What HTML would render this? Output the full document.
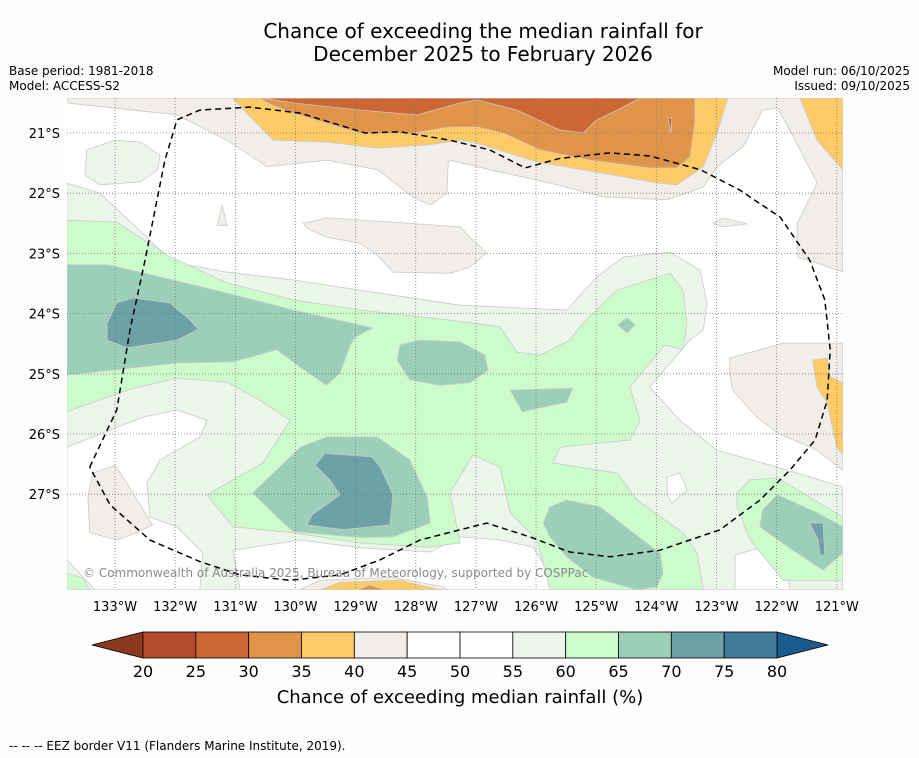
<!DOCTYPE html>
<html><head><meta charset="utf-8">
<style>
body{margin:0;background:#fdfdfd;}
svg{display:block;font-family:"DejaVu Sans","Liberation Sans",sans-serif;}
</style></head>
<body>
<svg id="chart" width="919" height="758" viewBox="0 0 919 758" xmlns="http://www.w3.org/2000/svg">
<rect x="0" y="0" width="919" height="758" fill="#fdfdfd"/>
<text x="483" y="38" text-anchor="middle" font-size="20" fill="#000">Chance of exceeding the median rainfall for</text>
<text x="483" y="61" text-anchor="middle" font-size="20" fill="#000">December 2025 to February 2026</text>
<text x="9" y="75" font-size="12">Base period: 1981-2018</text>
<text x="9" y="90" font-size="12">Model: ACCESS-S2</text>
<text x="910" y="75" font-size="12" text-anchor="end">Model run: 06/10/2025</text>
<text x="910" y="90" font-size="12" text-anchor="end">Issued: 09/10/2025</text>
<defs><clipPath id="mapclip"><rect x="67" y="98" width="776" height="492"/></clipPath></defs>
<g id="map" clip-path="url(#mapclip)">
<rect x="67" y="98" width="776" height="492" fill="#ffffff"/>
<g id="fills"></g>
<g id="grid"></g>
<g id="eez"></g>
</g>
<text x="83" y="577" font-size="12" fill="#8a8a8a">© Commonwealth of Australia 2025, Bureau of Meteorology, supported by COSPPac</text>
<g id="axes"></g>
<g id="colorbar"></g>
<text x="460" y="703" text-anchor="middle" font-size="18">Chance of exceeding median rainfall (%)</text>
<text x="9" y="750" font-size="12">--  --  -- EEZ border V11 (Flanders Marine Institute, 2019).</text>
</svg>
<script>
// ---- Data ----
const lonTicks = [-133,-132,-131,-130,-129,-128,-127,-126,-125,-124,-123,-122,-121];
const latTicks = [-21,-22,-23,-24,-25,-26,-27];
const levels = [20,25,30,35,40,45,50,55,60,65,70,75,80];
const levelColors = ["#b34a2a","#cc6633","#e0944a","#fecb66","#f1ede8","#ffffff","#ffffff","#ebf5ea","#ccfccc","#9ccfb9","#6ca1a6","#417a97"];
const underColor = "#8b3a20";
const overColor = "#1b5a8c";

const region5560 = [[-133.80,-21.83],[-133.25,-22.00],[-132.25,-22.94],[-131.97,-23.16],[-131.14,-23.31],[-130.04,-23.44],[-128.93,-23.61],[-127.26,-23.86],[-125.49,-23.94],[-124.99,-23.39],[-124.55,-23.06],[-123.77,-22.98],[-123.27,-23.28],[-123.16,-23.82],[-123.22,-24.27],[-123.44,-24.44],[-124.11,-25.22],[-123.61,-25.77],[-122.99,-26.27],[-121.99,-26.55],[-120.90,-26.88],[-120.90,-28.59],[-133.80,-28.59]];
const region5560b = [[-133.47,-21.28],[-133.00,-21.12],[-132.58,-21.15],[-132.25,-21.37],[-132.29,-21.61],[-132.58,-21.81],[-133.25,-21.86],[-133.50,-21.70]];
const white1 = [[-133.80,-26.22],[-132.53,-25.72],[-131.97,-25.60],[-131.47,-25.77],[-131.59,-26.05],[-132.25,-26.43],[-132.47,-26.81],[-132.42,-27.38],[-131.97,-27.54],[-131.54,-27.98],[-131.59,-28.59],[-133.33,-28.59],[-133.80,-28.09]];
const white2 = [[-131.04,-27.93],[-129.92,-27.76],[-128.93,-27.89],[-127.76,-27.96],[-127.26,-27.71],[-126.60,-27.76],[-126.05,-27.88],[-125.60,-28.59],[-130.92,-28.59]];
const white3 = [[-122.69,-28.01],[-122.28,-27.89],[-121.86,-28.09],[-121.78,-28.59],[-122.69,-28.59]];
const white4 = [[-123.82,-26.71],[-123.61,-26.65],[-123.49,-26.93],[-123.74,-27.15],[-123.82,-27.01]];
const region6065 = [[-133.80,-22.45],[-132.97,-22.48],[-132.14,-23.03],[-131.14,-23.49],[-130.04,-23.77],[-128.93,-23.94],[-127.43,-24.11],[-126.60,-24.22],[-126.32,-24.64],[-125.93,-24.69],[-125.44,-24.44],[-125.22,-24.16],[-124.65,-23.61],[-123.77,-23.33],[-123.56,-23.61],[-123.49,-24.16],[-123.56,-24.60],[-123.86,-24.52],[-124.44,-25.22],[-124.27,-25.77],[-124.44,-26.10],[-125.60,-26.22],[-125.72,-26.48],[-124.65,-26.65],[-124.32,-27.10],[-123.56,-27.64],[-123.32,-27.98],[-123.22,-28.59],[-125.77,-28.59],[-125.98,-27.76],[-126.43,-27.31],[-126.60,-26.55],[-127.05,-26.35],[-127.43,-26.98],[-127.26,-27.81],[-127.81,-27.88],[-128.93,-27.81],[-130.04,-27.64],[-131.04,-27.54],[-131.47,-27.01],[-130.54,-26.48],[-130.09,-25.77],[-130.59,-25.44],[-131.14,-25.14],[-131.97,-25.07],[-132.80,-25.27],[-133.80,-25.63]];
const region6065b = [[-122.66,-26.98],[-122.44,-26.76],[-121.99,-26.73],[-120.90,-27.38],[-120.90,-28.43],[-121.89,-28.43],[-122.44,-27.76],[-122.66,-27.21]];
const region6065c = [[-133.80,-28.31],[-133.53,-28.39],[-133.42,-28.59],[-133.80,-28.59]];
const region6570a = [[-133.80,-23.19],[-133.13,-23.19],[-132.25,-23.39],[-131.14,-23.66],[-130.04,-23.94],[-128.71,-24.24],[-129.01,-24.39],[-129.09,-24.52],[-129.26,-24.99],[-129.48,-25.19],[-129.92,-24.89],[-130.31,-24.60],[-131.04,-24.80],[-131.97,-24.82],[-133.80,-25.02]];
const region6570b = [[-128.26,-24.52],[-127.93,-24.44],[-127.26,-24.47],[-126.85,-24.69],[-126.80,-24.94],[-127.10,-25.15],[-127.60,-25.19],[-128.10,-25.10],[-128.31,-24.77]];
const region6570c = [[-126.43,-25.27],[-125.39,-25.24],[-125.49,-25.47],[-126.23,-25.63]];
const region6570d = [[-124.49,-24.07],[-124.35,-24.19],[-124.49,-24.32],[-124.64,-24.19]];
const region6570e = [[-130.71,-26.98],[-129.92,-26.22],[-129.48,-26.05],[-128.64,-26.05],[-128.10,-26.43],[-127.81,-27.05],[-127.76,-27.48],[-128.38,-27.71],[-128.93,-27.72],[-130.04,-27.62],[-130.37,-27.31]];
const region6570f = [[-125.88,-27.48],[-125.77,-27.21],[-125.49,-27.10],[-124.94,-27.21],[-124.39,-27.64],[-123.94,-27.98],[-123.89,-28.31],[-123.99,-28.54],[-124.32,-28.59],[-125.05,-28.38],[-125.49,-28.04],[-125.77,-27.71]];
const region6570g = [[-122.23,-27.26],[-121.99,-27.01],[-121.33,-27.31],[-120.90,-27.54],[-120.90,-27.98],[-121.23,-28.26],[-121.73,-27.93],[-122.28,-27.54]];
const region7075a = [[-133.13,-24.16],[-132.97,-23.82],[-132.70,-23.74],[-132.09,-23.82],[-131.75,-24.11],[-131.62,-24.26],[-131.97,-24.44],[-132.80,-24.57],[-133.13,-24.44]];
const region7075b = [[-129.67,-26.52],[-129.51,-26.32],[-128.73,-26.38],[-128.59,-26.55],[-128.38,-27.01],[-128.43,-27.51],[-129.21,-27.59],[-129.81,-27.51],[-129.72,-27.34],[-129.26,-27.01],[-129.43,-26.76]];
const region7075c = [[-121.45,-27.48],[-121.23,-27.48],[-121.20,-28.01],[-121.28,-28.01],[-121.31,-27.76]];
const region4045a = [[-133.80,-20.42],[-121.61,-20.42],[-121.33,-21.12],[-120.90,-21.61],[-120.90,-23.31],[-121.33,-23.16],[-121.66,-23.06],[-121.66,-22.50],[-121.33,-21.83],[-121.78,-20.95],[-121.99,-20.58],[-122.23,-20.62],[-122.56,-21.23],[-122.99,-21.56],[-123.22,-21.90],[-123.82,-22.11],[-124.89,-22.06],[-125.77,-21.83],[-126.77,-21.61],[-127.43,-21.45],[-127.46,-21.50],[-127.48,-22.00],[-127.76,-22.20],[-128.05,-22.06],[-128.64,-21.61],[-129.48,-21.45],[-130.47,-21.56],[-131.14,-21.12],[-131.97,-20.70],[-133.80,-20.50]];
const region4045b = [[-129.87,-22.50],[-129.48,-22.41],[-128.38,-22.48],[-127.26,-22.56],[-127.10,-22.73],[-126.82,-22.99],[-127.10,-23.23],[-127.43,-23.33],[-128.38,-23.31],[-128.64,-23.03],[-128.93,-22.83],[-129.48,-22.73],[-129.81,-22.58]];
const region4045c = [[-131.30,-22.53],[-131.22,-22.20],[-131.14,-22.54]];
const region4045d = [[-123.06,-22.50],[-122.89,-22.41],[-122.49,-22.51],[-122.89,-22.56]];
const region4045e = [[-122.78,-24.74],[-121.89,-24.49],[-120.90,-24.49],[-120.90,-26.60],[-121.33,-26.27],[-121.99,-25.98],[-122.33,-25.72],[-122.73,-25.27],[-122.78,-24.99]];
const region4045f = [[-133.45,-27.05],[-133.37,-26.65],[-133.00,-26.52],[-132.80,-26.81],[-132.38,-27.51],[-132.63,-27.64],[-132.97,-27.76],[-133.42,-27.64]];
const region4045g = [[-129.92,-28.59],[-129.59,-28.43],[-128.38,-28.38],[-127.55,-28.54],[-127.48,-28.59]];
const region3540a = [[-131.04,-20.42],[-130.81,-20.67],[-130.37,-21.12],[-129.48,-21.15],[-128.64,-21.25],[-127.81,-21.20],[-127.26,-21.12],[-126.98,-21.17],[-125.98,-21.48],[-124.99,-21.65],[-123.99,-21.83],[-123.66,-21.86],[-123.22,-21.56],[-122.99,-21.00],[-122.81,-20.42]];
const region3540b = [[-121.61,-20.42],[-120.90,-20.42],[-120.90,-21.61],[-121.33,-21.12]];
const region3540c = [[-121.40,-24.77],[-121.16,-24.74],[-121.11,-25.05],[-120.90,-25.15],[-120.90,-26.35],[-121.00,-26.22],[-121.16,-25.49],[-121.33,-25.22]];
const region3540d = [[-129.59,-28.59],[-129.26,-28.46],[-128.26,-28.43],[-127.60,-28.59]];
const region3035a = [[-130.59,-20.42],[-130.47,-20.50],[-130.04,-20.67],[-128.93,-21.00],[-128.05,-21.00],[-127.43,-20.90],[-126.98,-20.90],[-126.55,-21.00],[-125.93,-21.28],[-125.10,-21.45],[-124.11,-21.58],[-123.66,-21.58],[-123.44,-21.40],[-123.36,-20.83],[-123.36,-20.42]];
const region3035b = [[-128.98,-28.59],[-128.76,-28.51],[-128.51,-28.59]];
const region2530a = [[-130.54,-20.42],[-130.04,-20.50],[-128.93,-20.62],[-127.98,-20.70],[-127.26,-20.50],[-126.98,-20.45],[-126.32,-20.62],[-125.60,-20.95],[-125.22,-21.00],[-124.99,-20.78],[-124.65,-20.62],[-124.27,-20.42]];
const region2530b = [[-123.81,-20.75],[-123.74,-20.75],[-123.76,-21.00]];
const eezBorder = [[-133.42,-26.55],[-132.97,-25.60],[-132.75,-24.27],[-132.50,-23.11],[-132.17,-21.45],[-131.97,-20.78],[-131.59,-20.62],[-130.76,-20.57],[-129.92,-20.67],[-128.84,-21.00],[-128.26,-20.98],[-127.43,-21.12],[-126.77,-21.28],[-126.18,-21.58],[-125.60,-21.42],[-124.77,-21.33],[-124.11,-21.38],[-123.27,-21.61],[-122.61,-21.95],[-121.94,-22.40],[-121.45,-23.11],[-121.20,-23.77],[-121.11,-24.60],[-121.16,-25.44],[-121.36,-26.10],[-121.78,-26.60],[-122.28,-27.10],[-122.94,-27.59],[-123.94,-27.93],[-124.77,-28.04],[-125.44,-27.96],[-126.10,-27.71],[-126.82,-27.48],[-127.26,-27.59],[-127.93,-27.76],[-128.59,-28.09],[-129.26,-28.34],[-130.09,-28.43],[-130.92,-28.34],[-131.59,-28.12],[-132.42,-27.76],[-133.08,-27.18],[-133.42,-26.55]];

// ---- Axis functions ----
const X0 = 115, PXLON = 60.15, Y0 = 133, PXLAT = 60.2;
function xScale(lon){ return X0 + (lon + 133) * PXLON; }
function yScale(lat){ return Y0 + (-21 - lat) * PXLAT; }
const NS = "http://www.w3.org/2000/svg";
function mk(tag){ return document.createElementNS(NS, tag); }
function ptsStr(poly){ return poly.map(p => xScale(p[0]).toFixed(1) + "," + yScale(p[1]).toFixed(1)).join(" "); }
function bandColor(lv){ return levelColors[levels.indexOf(lv)]; }

const layers = [
  [55, region5560, "band-55-60"],[55, region5560b, "band-55-60-small"],
  [50, white1, "band-50-55-left"],[50, white2, "band-50-55-bottom"],[50, white3, "band-50-55-right"],[50, white4, "band-50-55-small"],
  [60, region6065, "band-60-65"],[60, region6065b, "band-60-65-right"],[60, region6065c, "band-60-65-corner"],
  [65, region6570a, "band-65-70-west"],[65, region6570b, "band-65-70-centre"],[65, region6570c, "band-65-70-small"],[65, region6570d, "band-65-70-diamond"],[65, region6570e, "band-65-70-south"],[65, region6570f, "band-65-70-southeast"],[65, region6570g, "band-65-70-east"],
  [70, region7075a, "band-70-75-west"],[70, region7075b, "band-70-75-south"],[70, region7075c, "band-70-75-east"],
  [40, region4045a, "band-40-45-north"],[40, region4045b, "band-40-45-centre"],[40, region4045c, "band-40-45-drop"],[40, region4045d, "band-40-45-small"],[40, region4045e, "band-40-45-east"],[40, region4045f, "band-40-45-southwest"],[40, region4045g, "band-40-45-south"],
  [35, region3540a, "band-35-40-north"],[35, region3540b, "band-35-40-northeast"],[35, region3540c, "band-35-40-east"],[35, region3540d, "band-35-40-south"],
  [30, region3035a, "band-30-35-north"],[30, region3035b, "band-30-35-south"],
  [25, region2530a, "band-25-30-north"],[25, region2530b, "band-25-30-spike"]
];
const fills = document.getElementById("fills");
layers.forEach(L => {
  const p = mk("polygon");
  p.setAttribute("points", ptsStr(L[1]));
  p.setAttribute("fill", bandColor(L[0]));
  p.setAttribute("stroke", "#c9c9c9");
  p.setAttribute("stroke-width", "0.8");
  
  
  fills.appendChild(p);
});

const grid = document.getElementById("grid");
lonTicks.forEach(lon => {
  const l = mk("line");
  l.setAttribute("x1", xScale(lon)); l.setAttribute("x2", xScale(lon));
  l.setAttribute("y1", 98); l.setAttribute("y2", 590);
  l.setAttribute("stroke", "#777"); l.setAttribute("stroke-width", "0.8"); l.setAttribute("stroke-dasharray", "1,2");
  
  
  grid.appendChild(l);
});
latTicks.forEach(lat => {
  const l = mk("line");
  l.setAttribute("x1", 67); l.setAttribute("x2", 843);
  l.setAttribute("y1", yScale(lat)); l.setAttribute("y2", yScale(lat));
  l.setAttribute("stroke", "#777"); l.setAttribute("stroke-width", "0.8"); l.setAttribute("stroke-dasharray", "1,2");
  
  
  grid.appendChild(l);
});

const eez = mk("polyline");
eez.setAttribute("points", ptsStr(eezBorder));
eez.setAttribute("fill", "none"); eez.setAttribute("stroke", "#000");
eez.setAttribute("stroke-width", "1.5"); eez.setAttribute("stroke-dasharray", "6,4");
eez.setAttribute("stroke-linejoin", "round");


document.getElementById("eez").appendChild(eez);

const axes = document.getElementById("axes");
lonTicks.forEach(lon => {
  const t = mk("text");
  t.setAttribute("x", xScale(lon)); t.setAttribute("y", 611);
  t.setAttribute("text-anchor", "middle"); t.setAttribute("font-size", "13");
  t.textContent = Math.abs(lon) + "°W";
  
  
  axes.appendChild(t);
});
latTicks.forEach(lat => {
  const t = mk("text");
  t.setAttribute("x", 60); t.setAttribute("y", yScale(lat) + 5);
  t.setAttribute("text-anchor", "end"); t.setAttribute("font-size", "13");
  t.textContent = Math.abs(lat) + "°S";
  
  
  axes.appendChild(t);
});

const cb = document.getElementById("colorbar");
const cbX0 = 143, cbX1 = 777, cbY = 632, cbH = 26;
function cbScale(v){ return cbX0 + (v - levels[0]) / (levels[levels.length-1] - levels[0]) * (cbX1 - cbX0); }
const under = mk("polygon");
under.setAttribute("points", `92,${cbY+cbH/2} ${cbX0},${cbY} ${cbX0},${cbY+cbH}`);
under.setAttribute("fill", underColor); under.setAttribute("stroke", "#000"); under.setAttribute("stroke-width", "0.8");


cb.appendChild(under);
const over = mk("polygon");
over.setAttribute("points", `${cbX1},${cbY} 828,${cbY+cbH/2} ${cbX1},${cbY+cbH}`);
over.setAttribute("fill", overColor); over.setAttribute("stroke", "#000"); over.setAttribute("stroke-width", "0.8");


cb.appendChild(over);
for (let i = 0; i < levelColors.length; i++) {
  const r = mk("rect");
  r.setAttribute("x", cbScale(levels[i])); r.setAttribute("y", cbY);
  r.setAttribute("width", cbScale(levels[i+1]) - cbScale(levels[i])); r.setAttribute("height", cbH);
  r.setAttribute("fill", levelColors[i]); r.setAttribute("stroke", "#000"); r.setAttribute("stroke-width", "0.8");
  
  
  cb.appendChild(r);
}
levels.forEach(v => {
  const t = mk("text");
  t.setAttribute("x", cbScale(v)); t.setAttribute("y", 677);
  t.setAttribute("text-anchor", "middle"); t.setAttribute("font-size", "16");
  t.textContent = v;
  
  
  cb.appendChild(t);
});
</script>
</body></html>
